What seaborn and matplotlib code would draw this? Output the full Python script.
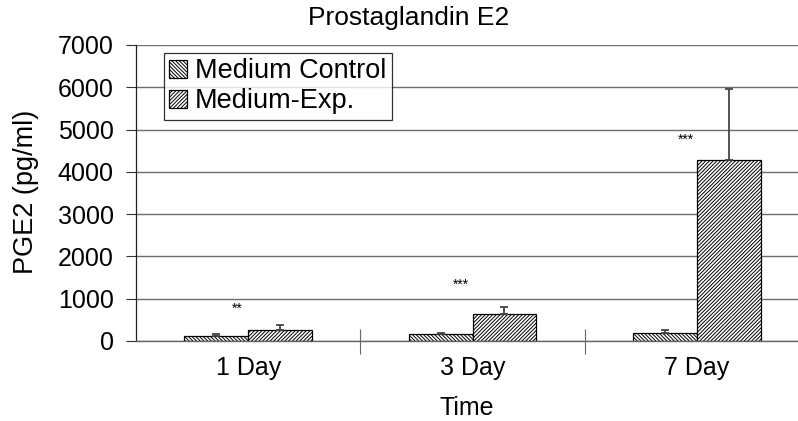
import matplotlib
matplotlib.use("Agg")
import matplotlib.pyplot as plt
import seaborn as sns
import pandas as pd
import numpy as np

categories = ["1 Day", "3 Day", "7 Day"]
series = ["Medium Control", "Medium-Exp."]
control_vals = [110, 158, 180]
control_err = [55, 35, 80]
exp_vals = [250, 630, 4280]
exp_err = [120, 170, 1690]
stars = ["**", "***", "***"]
star_y = [760, 1320, 4750]
yticks = [0, 1000, 2000, 3000, 4000, 5000, 6000, 7000]

sns.set_theme(style="white")
plt.rcParams['font.family'] = ['Liberation Sans', 'DejaVu Sans']
plt.rcParams['hatch.linewidth'] = 0.7
plt.rcParams['text.color'] = 'black'
plt.rcParams['xtick.color'] = 'black'
plt.rcParams['ytick.color'] = 'black'
plt.rcParams['axes.labelcolor'] = 'black'

df = pd.DataFrame({
    "Time": categories * 2,
    "Series": [series[0]] * 3 + [series[1]] * 3,
    "Value": control_vals + exp_vals,
})

fig = plt.figure(figsize=(7.98, 4.21), dpi=100)
ax = fig.add_axes([136 / 798, 80 / 421, (809 - 136) / 798, (341 - 45) / 421])

sns.barplot(data=df, x="Time", y="Value", hue="Series", order=categories,
            hue_order=series, errorbar=None, width=0.57, ax=ax,
            palette=["white", "white"], edgecolor="black", linewidth=0.9,
            saturation=1, legend=False)

bar_conts = list(ax.containers)
hatches = ["\\" * 9, "/" * 9]
for cont, h in zip(bar_conts, hatches):
    for p in cont:
        p.set_hatch(h)
        p.set_facecolor("white")
        p.set_edgecolor("black")

for cont, vals, errs in zip(bar_conts, [control_vals, exp_vals], [control_err, exp_err]):
    xs = [p.get_x() + p.get_width() / 2 for p in cont]
    ax.errorbar(xs, vals, yerr=[np.zeros(len(errs)), errs], fmt="none",
                ecolor="#444444", elinewidth=1.3, capsize=2.8, capthick=1.3, zorder=3)

for i, (s, y) in enumerate(zip(stars, star_y)):
    ax.text(i - 0.05, y, s, ha="center", va="center", fontsize=10)

FS = 18
ax.set_ylim(0, 7000)
ax.set_xlim(-0.5, 2.5)
ax.set_yticks(yticks)
ax.set_yticklabels([str(v) for v in yticks], fontsize=FS)
ax.yaxis.grid(True, color="#6e6e6e", linewidth=1.0)
ax.set_axisbelow(True)
ax.tick_params(axis="y", direction="out", length=7, width=0.8, color="#333333", left=True, pad=9)

ax.set_xticks([0, 1, 2])
ax.set_xticklabels(categories, fontsize=FS)
ax.set_xticks([0.5, 1.5], minor=True)
ax.tick_params(axis="x", which="major", length=0, pad=11)
ax.tick_params(axis="x", which="minor", direction="inout", length=18, width=0.8, color="#666666", bottom=True)

for side in ["top", "right"]:
    ax.spines[side].set_visible(False)
ax.spines["left"].set_color("#222222")
ax.spines["left"].set_linewidth(0.9)
ax.spines["bottom"].set_color("#666666")
ax.spines["bottom"].set_linewidth(1.0)

ax.set_xlabel("")
ax.set_ylabel("")
fig.text(26 / 798, 1 - 192 / 421, "PGE2 (pg/ml)", ha="center", va="center",
         rotation=90, fontsize=19.5)

handles = [cont.patches[0] for cont in bar_conts]
leg = ax.legend(handles, series, loc="upper left",
                bbox_to_anchor=((164 - 136) / 673, (421 - 53 - 80) / 296),
                fontsize=19.5, frameon=True, fancybox=False, edgecolor="black",
                handlelength=0.65, handleheight=0.65, handletextpad=0.3, borderpad=0.2,
                labelspacing=0.15, borderaxespad=0)
leg.get_frame().set_linewidth(0.9)

fig.text(409 / 798, 1 - 18 / 421, "Prostaglandin E2", ha="center", va="center", fontsize=19)
fig.text(467 / 798, 1 - 408 / 421, "Time", ha="center", va="center", fontsize=FS)

fig.savefig("out.png", dpi=100)
